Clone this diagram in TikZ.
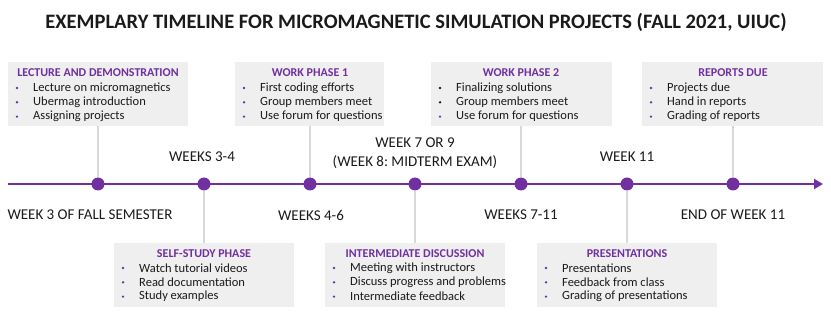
\documentclass[tikz,border=0pt]{standalone}
\usepackage{fontspec}
\setmainfont{Carlito}
\usetikzlibrary{arrows.meta}
\definecolor{vio}{HTML}{7030A0}
\definecolor{boxgray}{HTML}{EFEFEF}
\definecolor{stemgray}{HTML}{D9D9D9}
\definecolor{txt}{HTML}{1A1A1A}
\frenchspacing
\tikzset{
  infobox/.style={fill=boxgray, draw=none, minimum width=180pt, minimum height=64pt, anchor=north west, inner sep=0pt},
  dot/.style={circle, fill=vio, minimum size=13pt, inner sep=0pt},
  stem/.style={draw=stemgray, line width=2pt},
  weeklbl/.style={font=\fontsize{15}{19}\selectfont, text=txt, align=center},
  boxhead/.style={font=\fontsize{12}{13}\selectfont\bfseries, text=vio},
  bul/.style={font=\fontsize{12.5}{14}\selectfont, text=txt, anchor=west, inner sep=0pt},
  bmark/.style={circle, inner sep=0pt, minimum size=2.6pt},
}
\begin{document}
\begin{tikzpicture}[x=1pt,y=-1pt]
\useasboundingbox (0,0) rectangle (831,318);
\node[font=\fontsize{20.5}{22}\selectfont\bfseries, text=txt] (title) at (416,22) {EXEMPLARY TIMELINE FOR MICROMAGNETIC SIMULATION PROJECTS (FALL 2021, UIUC)};
% boxes
\node[infobox, minimum width=180pt] (b1) at (8,62) {};
\node[infobox, minimum width=149pt] (b2) at (235,62) {};
\node[infobox, minimum width=181pt] (b3) at (431,62) {};
\node[infobox, minimum width=181pt] (b4) at (642,62) {};
\node[infobox, minimum width=180pt] (b5) at (114,243) {};
\node[infobox, minimum width=180pt] (b6) at (325,243) {};
\node[infobox, minimum width=180pt] (b7) at (537,243) {};
% timeline
\coordinate (tstart) at (8,184);
\coordinate (tend) at (823,184);
\draw[vio, line width=2.2pt, -{Triangle[length=9pt,width=10pt]}] (tstart) -- (tend);
\node[dot] (d1) at (98,184) {};
\node[dot] (d2) at (204,184) {};
\node[dot] (d3) at (310,184) {};
\node[dot] (d4) at (415,184) {};
\node[dot] (d5) at (521,184) {};
\node[dot] (d6) at (627,184) {};
\node[dot] (d7) at (733,184) {};
% stems
\draw[stem] (b1.south -| d1) -- (d1.north);
\draw[stem] (b2.south -| d3) -- (d3.north);
\draw[stem] (b3.south -| d5) -- (d5.north);
\draw[stem] (b4.south -| d7) -- (d7.north);
\draw[stem] (d2.south) -- (b5.north -| d2);
\draw[stem] (d4.south) -- (b6.north -| d4);
\draw[stem] (d6.south) -- (b7.north -| d6);
% week labels
\node[weeklbl] (w1) at (90,215) {WEEK 3 OF FALL SEMESTER};
\node[weeklbl] (w2) at (202,157) {WEEKS 3-4};
\node[weeklbl] (w3) at (311,215) {WEEKS 4-6};
\node[weeklbl] (w4) at (415,153) {WEEK 7 OR 9\\(WEEK 8: MIDTERM EXAM)};
\node[weeklbl] (w5) at (521,215) {WEEKS 7-11};
\node[weeklbl] (w6) at (627,157) {WEEK 11};
\node[weeklbl] (w7) at (733,215) {END OF WEEK 11};
% box titles
\node[boxhead] (h1) at (98,73) {LECTURE AND DEMONSTRATION};
\node[boxhead] (h2) at (310,73) {WORK PHASE 1};
\node[boxhead] (h3) at (521,73) {WORK PHASE 2};
\node[boxhead] (h4) at (733,73) {REPORTS DUE};
\node[boxhead] (h5) at (204,254) {SELF-STUDY PHASE};
\node[boxhead] (h6) at (415,254) {INTERMEDIATE DISCUSSION};
\node[boxhead] (h7) at (627,254) {PRESENTATIONS};
% bullet items
\newcommand{\items}[7]{%
  \node[bmark, fill=#5] at (#1+9,#2) {};
  \node[bul] at (#1+25,#2) {#3};
  \node[bmark, fill=#6] at (#1+9,#2+14.3) {};
  \node[bul] at (#1+25,#2+14.3) {#4};
  \node[bmark, fill=vio] at (#1+9,#2+28.6) {};
  \node[bul] at (#1+25,#2+28.6) {#7};
}
\items{8}{88}{Lecture on micromagnetics}{Ubermag introduction}{vio}{vio}{Assigning projects}
\items{235}{88}{First coding efforts}{Group members meet}{vio}{vio}{Use forum for questions}
\items{431}{88}{Finalizing solutions}{Group members meet}{txt}{txt}{Use forum for questions}
\items{642}{88}{Projects due}{Hand in reports}{vio}{vio}{Grading of reports}
\items{114}{268}{Watch tutorial videos}{Read documentation}{vio}{vio}{Study examples}
\items{325}{268}{Meeting with instructors}{Discuss progress and problems}{vio}{vio}{Intermediate feedback}
\items{537}{268}{Presentations}{Feedback from class}{vio}{vio}{Grading of presentations}
\end{tikzpicture}
\end{document}
